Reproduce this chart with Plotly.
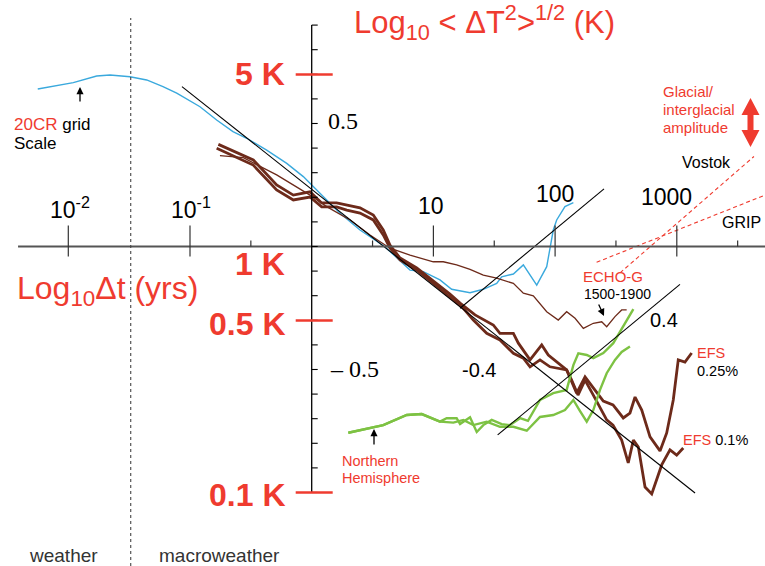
import math
import plotly.graph_objects as go

W, H = 765, 566
# Axis ranges, in log10 units (x: log10 Δt [yrs], y: log10 RMS ΔT [K])
X_RANGE = [-2.5612, 3.7247]
Y_RANGE = [-1.2988, 1.0020]

# ---------------- data (log10 units) ----------------
# 20CR grid scale (blue)
cr_x = [-2.251, -1.959, -1.767, -1.657, -1.493, -1.356, -1.222, -1.109, -0.918, -0.781,
        -0.647, -0.534, -0.370, -0.205, -0.069, 0.002, 0.123, 0.233, 0.397, 0.602,
        0.808, 0.917, 1.054, 1.150, 1.301, 1.410, 1.520, 1.561, 1.657, 1.739,
        1.849, 1.931, 1.985, 2.013, 2.081, 2.150]
cr_y = [0.640, 0.666, 0.693, 0.697, 0.690, 0.677, 0.650, 0.623, 0.568, 0.514,
        0.467, 0.440, 0.392, 0.338, 0.284, 0.250, 0.189, 0.135, 0.067, -0.001,
        -0.096, -0.102, -0.136, -0.174, -0.188, -0.174, -0.150, -0.123, -0.112, -0.075,
        -0.157, -0.082, 0.067, 0.108, 0.162, 0.178]

# ECHO-G 1500-1900 (thin brown)
echo_x = [-0.754, -0.562, -0.288, -0.014, 0.123, 0.315, 0.479, 0.643, 0.808, 0.999,
          1.081, 1.191, 1.301, 1.410, 1.520, 1.657, 1.739, 1.821, 1.931, 2.026,
          2.095, 2.164, 2.232, 2.314, 2.383, 2.424, 2.492, 2.547, 2.588]
echo_y = [0.369, 0.361, 0.291, 0.209, 0.162, 0.108, 0.047, -0.007, -0.035, -0.062,
          -0.062, -0.075, -0.093, -0.116, -0.129, -0.150, -0.190, -0.201, -0.265, -0.299,
          -0.265, -0.292, -0.333, -0.312, -0.306, -0.326, -0.285, -0.258, -0.258]

# EFS 0.25% (thick brown)
efs25_x = [-0.767, -0.480, -0.288, -0.151, -0.014, 0.082, 0.205, 0.288, 0.397, 0.506,
           0.588, 0.643, 0.726, 0.863, 0.999, 1.136, 1.219, 1.342, 1.492, 1.547,
           1.657, 1.698, 1.794, 1.890, 1.944, 2.013, 2.095, 2.177, 2.246, 2.314,
           2.396, 2.476, 2.560, 2.615, 2.657, 2.712, 2.780, 2.862, 2.917, 2.971,
           3.012, 3.067, 3.122]
efs25_y = [0.415, 0.352, 0.250, 0.209, 0.222, 0.177, 0.177, 0.169, 0.157, 0.128,
           0.067, 0.006, -0.047, -0.087, -0.140, -0.193, -0.230, -0.278, -0.319, -0.353,
           -0.353, -0.393, -0.461, -0.400, -0.441, -0.468, -0.502, -0.596, -0.530, -0.575,
           -0.628, -0.644, -0.697, -0.677, -0.612, -0.665, -0.774, -0.831, -0.758, -0.624,
           -0.461, -0.470, -0.433]

# EFS 0.1% (thick brown)
efs10_x = [-0.781, -0.480, -0.288, -0.151, -0.014, 0.082, 0.205, 0.288, 0.397, 0.506,
           0.588, 0.643, 0.726, 0.863, 0.999, 1.136, 1.246, 1.328, 1.438, 1.547,
           1.657, 1.739, 1.794, 1.876, 1.958, 2.095, 2.136, 2.188, 2.246, 2.314,
           2.369, 2.424, 2.476, 2.547, 2.601, 2.643, 2.684, 2.739, 2.794, 2.876,
           2.944, 2.999, 3.053]
efs10_y = [0.399, 0.331, 0.230, 0.189, 0.201, 0.161, 0.161, 0.148, 0.136, 0.108,
           0.047, -0.006, -0.055, -0.096, -0.150, -0.204, -0.251, -0.299, -0.353, -0.380,
           -0.434, -0.454, -0.489, -0.461, -0.489, -0.502, -0.543, -0.604, -0.543, -0.604,
           -0.657, -0.705, -0.726, -0.787, -0.880, -0.787, -0.815, -0.978, -1.006, -0.888,
           -0.827, -0.848, -0.819]

# Northern Hemisphere (green, two series)
nh1_x = [0.301, 0.588, 0.781, 0.904, 1.054, 1.109, 1.191, 1.219, 1.301, 1.356,
         1.410, 1.479, 1.561, 1.629, 1.712, 1.777, 1.876, 1.985, 2.095, 2.150,
         2.191, 2.260, 2.314, 2.396, 2.478, 2.533, 2.601, 2.643]
nh1_y = [-0.757, -0.726, -0.685, -0.681, -0.712, -0.698, -0.698, -0.722, -0.694, -0.754,
         -0.726, -0.705, -0.722, -0.726, -0.698, -0.709, -0.624, -0.596, -0.583, -0.482,
         -0.434, -0.441, -0.454, -0.433, -0.393, -0.346, -0.287, -0.255]
nh2_x = [0.301, 0.588, 0.781, 0.904, 1.054, 1.164, 1.246, 1.328, 1.438, 1.547,
         1.657, 1.767, 1.876, 1.985, 2.081, 2.150, 2.205, 2.260, 2.314, 2.369,
         2.424, 2.492, 2.547, 2.615]
nh2_y = [-0.757, -0.726, -0.685, -0.681, -0.712, -0.716, -0.705, -0.726, -0.712, -0.733,
         -0.733, -0.749, -0.693, -0.685, -0.665, -0.624, -0.669, -0.712, -0.665, -0.583,
         -0.515, -0.461, -0.429, -0.407]

# reference scaling lines (slopes -0.4, +0.4, +0.4)
fit_a_x, fit_a_y = [-1.066, 3.150], [0.650, -1.002]
fit_b_x, fit_b_y = [1.219, 2.402], [-0.251, 0.234]
fit_c_x, fit_c_y = [1.528, 3.026], [-0.766, -0.154]
# paleo extrapolations (red dashed)
grip_x, grip_y = [2.341, 3.725], [-0.064, 0.209]
vostok_x, vostok_y = [2.534, 3.634], [-0.107, 0.366]

# axes / ticks
x_axis_start = -2.413
x_major_ticks = [-2, -1, 1, 2, 3]
x_minor_ticks = [-0.5, 0.5, 1.5, 2.5, 3.5]
x_tick_labels = ["10<sup>-2</sup>", "10<sup>-1</sup>", "10", "100", "1000"]
y_ticks = [i / 10 for i in range(-10, 10)]
k_values = [5, 1, 0.5, 0.1]
k_labels = ["5 K", "1 K", "0.5 K", "0.1 K"]
weather_boundary = -1.487

# ---------------- styling ----------------
BLUE = "#3AA9DD"
BROWN = "#6D2A1A"
GREEN = "#7DC243"
RED = "#EF3B2F"
SANS = "Liberation Sans"
SERIF = "Liberation Serif"

fig = go.Figure()

def line(x, y, color, width, dash=None):
    fig.add_trace(go.Scatter(x=x, y=y, mode="lines", hoverinfo="skip",
                             line=dict(color=color, width=width, dash=dash)))

line(cr_x, cr_y, BLUE, 1.4)
line(echo_x, echo_y, BROWN, 1.3)
line(efs25_x, efs25_y, BROWN, 2.8)
line(efs10_x, efs10_y, BROWN, 2.8)
line(nh1_x, nh1_y, GREEN, 2.4)
line(nh2_x, nh2_y, GREEN, 2.4)
line(fit_a_x, fit_a_y, "black", 1.1)
line(fit_b_x, fit_b_y, "black", 1.1)
line(fit_c_x, fit_c_y, "black", 1.1)
line(grip_x, grip_y, RED, 1.1, "4px,3px")
line(vostok_x, vostok_y, RED, 1.1, "4px,3px")

shapes = []
xpx = (X_RANGE[1] - X_RANGE[0]) / W   # data units per pixel
ypx = (Y_RANGE[1] - Y_RANGE[0]) / H
# horizontal axis
shapes.append(dict(type="line", xref="x", yref="y", x0=x_axis_start, x1=X_RANGE[1], y0=0, y1=0,
                   line=dict(color="#555555", width=2)))
for t in x_major_ticks:
    shapes.append(dict(type="line", xref="x", yref="y", x0=t, x1=t, y0=21 * ypx, y1=-10 * ypx,
                       line=dict(color="#333333", width=1.2)))
for t in x_minor_ticks:
    shapes.append(dict(type="line", xref="x", yref="y", x0=t, x1=t, y0=6 * ypx, y1=0,
                       line=dict(color="#333333", width=1.2)))
# vertical axis
shapes.append(dict(type="line", xref="x", yref="y", x0=0, x1=0, y0=-1, y1=0.9,
                   line=dict(color="black", width=1.3)))
for t in y_ticks:
    shapes.append(dict(type="line", xref="x", yref="y", x0=0, x1=6 * xpx, y0=t, y1=t,
                       line=dict(color="black", width=1.1)))
for v in k_values:
    if v == 1:
        continue
    lv = math.log10(v)
    shapes.append(dict(type="line", xref="x", yref="y", x0=-16 * xpx, x1=21 * xpx, y0=lv, y1=lv,
                       line=dict(color=RED, width=2.5)))
# weather / macroweather boundary
shapes.append(dict(type="line", xref="x", yref="paper", x0=weather_boundary, x1=weather_boundary,
                   y0=0, y1=1 - 18 / H, line=dict(color="#444444", width=1.1, dash="3px,3px")))

# glacial/interglacial double arrow (pixel geometry -> paper)
def P(px, py):
    return px / W, 1 - py / H
pts = [(750.5, 98), (759.5, 115), (753.5, 115), (753.5, 130), (759.5, 130), (750.5, 147),
       (741.5, 130), (747.5, 130), (747.5, 115), (741.5, 115)]
path = "M " + " L ".join("%.5f,%.5f" % P(a, b) for a, b in pts) + " Z"
shapes.append(dict(type="path", xref="paper", yref="paper", path=path,
                   fillcolor=RED, line=dict(width=0)))

ann = []
def text(t, px, py, size, color="black", family=SANS, xanchor="center"):
    x, y = P(px, py)
    ann.append(dict(text=t, x=x, y=y, xref="paper", yref="paper", showarrow=False,
                    xanchor=xanchor, yanchor="middle",
                    font=dict(family=family, size=size, color=color)))

def arrow(hx, hy, ax, ay):
    x, y = P(hx, hy)
    ann.append(dict(text="", x=x, y=y, xref="paper", yref="paper", showarrow=True,
                    ax=ax, ay=ay, arrowhead=2, arrowsize=1.1, arrowwidth=1.3, arrowcolor="black"))

# titles
text("Log<sub>10</sub> &lt; ΔT<sup>2</sup>&gt;<sup>1/2</sup> (K)", 484, 23, 31, RED)
text("Log<sub>10</sub>Δt (yrs)", 107, 290, 32, RED)

# K labels
k_py = [73.5, 264, 324, 495]
for lab, yy in zip(k_labels, k_py):
    text("<b>%s</b>" % lab, 287, yy, 32, RED, xanchor="right")

# x tick labels
xl_px = [70, 191, 431, 555, 666]
xl_py = [208, 208, 206, 194, 197]
for lab, a, b in zip(x_tick_labels, xl_px, xl_py):
    text(lab, a, b, 23)

# log value labels
text("0.5", 326, 121.5, 24, family=SERIF, xanchor="left")
text("– 0.5", 328, 369, 24, family=SERIF, xanchor="left")
text("-0.4", 479, 370, 20)
text("0.4", 664, 320, 20)

# annotations
text("<span style='color:%s'>20CR</span> grid" % RED, 12, 124, 17, xanchor="left")
text("Scale", 12, 143.5, 17, xanchor="left")
arrow(80, 87, 0, 16)
text("Glacial/", 661, 91.5, 15, RED, xanchor="left")
text("interglacial", 661, 109.5, 15, RED, xanchor="left")
text("amplitude", 661, 127, 15, RED, xanchor="left")
text("Vostok", 680, 162, 16, xanchor="left")
text("GRIP", 720, 222, 16, xanchor="left")
text("ECHO-G", 581, 277, 15, RED, xanchor="left")
text("1500-1900", 582, 294, 14, xanchor="left")
arrow(604, 316, -6, -13)
text("EFS", 695, 353, 14.5, RED, xanchor="left")
text("0.25%", 695, 370.5, 14.5, xanchor="left")
text("<span style='color:%s'>EFS</span> 0.1%%" % RED, 681, 440, 14.5, xanchor="left")
text("Northern", 340, 461, 14.5, RED, xanchor="left")
text("Hemisphere", 340, 478, 14.5, RED, xanchor="left")
arrow(374, 429, 0, 17)
text("weather", 64, 555, 19, "#333333")
text("macroweather", 220, 555, 19, "#333333")

fig.update_layout(
    width=W, height=H, autosize=False,
    margin=dict(l=0, r=0, t=0, b=0),
    paper_bgcolor="white", plot_bgcolor="white",
    showlegend=False,
    xaxis=dict(range=X_RANGE, visible=False, fixedrange=True),
    yaxis=dict(range=Y_RANGE, visible=False, fixedrange=True),
    shapes=shapes, annotations=ann,
)
fig.write_html("out.html", config={"displayModeBar": False},
               post_script="document.body.style.margin='0';document.body.style.overflow='hidden';")
